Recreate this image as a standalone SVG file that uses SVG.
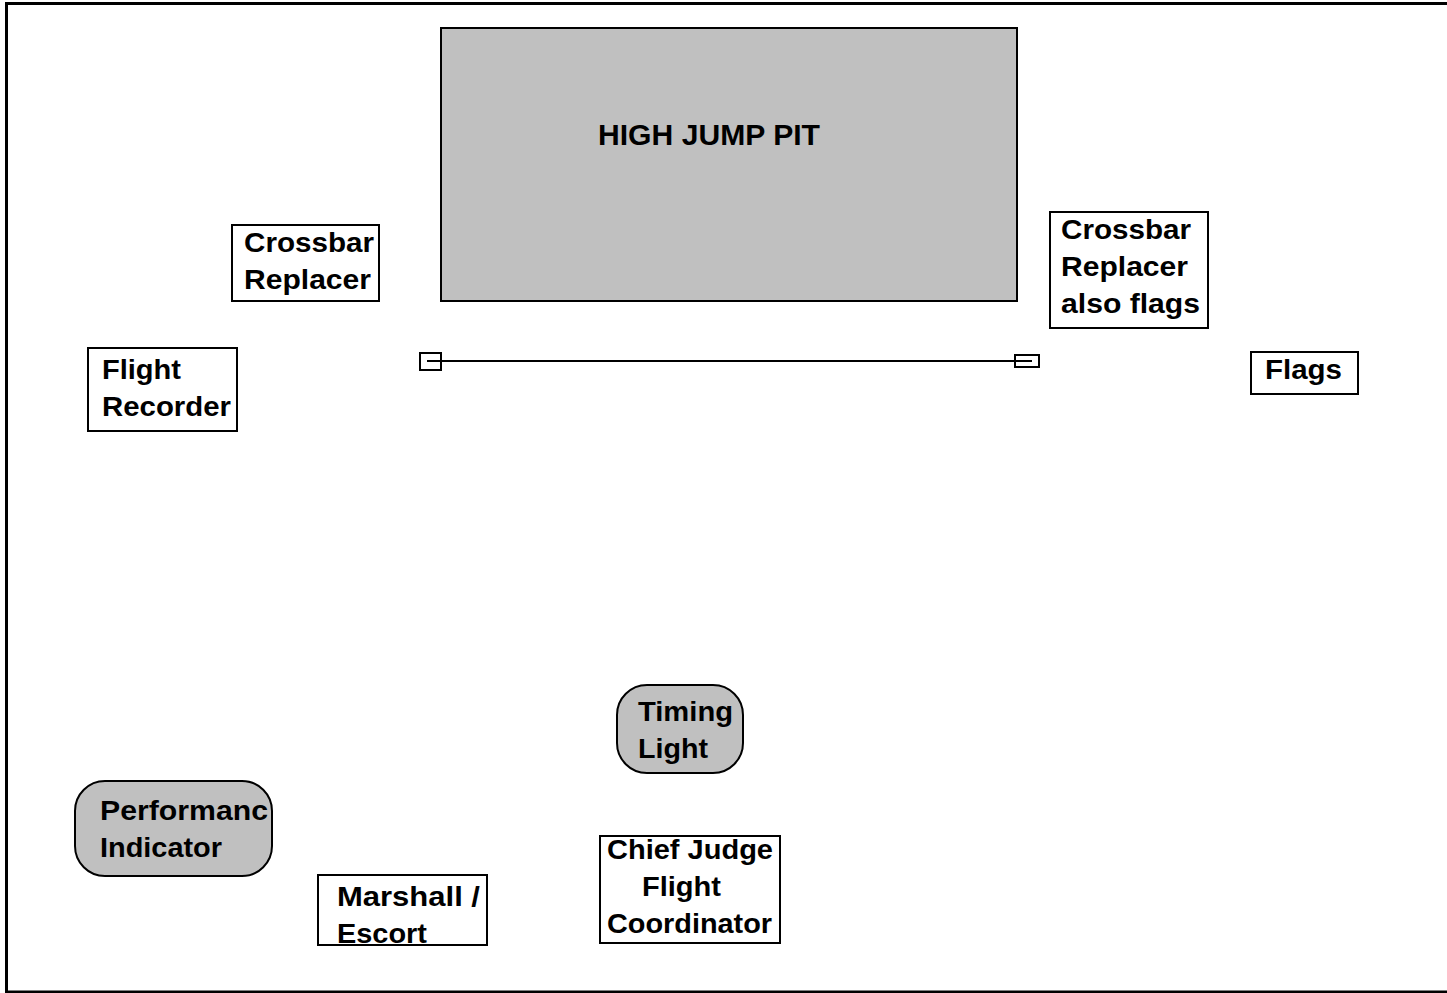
<svg xmlns="http://www.w3.org/2000/svg" width="1447" height="993" viewBox="0 0 1447 993">
<style>
.box{fill:#fff;stroke:#000;stroke-width:2}
.gray{fill:#c0c0c0;stroke:#000;stroke-width:2}
.lbl{font-family:"Liberation Sans",Arial,sans-serif;font-weight:bold;font-size:28px;fill:#000}
.title{font-family:"Liberation Sans",Arial,sans-serif;font-weight:bold;font-size:29px;fill:#000}
.frame{fill:none;stroke:#000;stroke-width:3}
</style>
<rect width="1447" height="993" fill="#fff"/>
<path class="frame" d="M1447,3.5 H6.5 V992 H1447"/>
<g id="pit">
<rect class="gray" x="441" y="28" width="576" height="273"/>
<text class="title" x="598" y="145" textLength="222" lengthAdjust="spacingAndGlyphs">HIGH JUMP PIT</text>
</g>
<g id="connectors">
<line x1="427" y1="361" x2="1032" y2="361" stroke="#000" stroke-width="2"/>
</g>
<g id="standard-left">
<rect x="420" y="353" width="21" height="17" fill="none" stroke="#000" stroke-width="2"/>
</g>
<g id="standard-right">
<rect x="1015" y="355" width="24" height="12" fill="none" stroke="#000" stroke-width="2"/>
</g>
<g id="crossbar-left">
<rect class="box" x="232" y="225" width="147" height="76"/>
<text class="lbl" x="244" y="252" textLength="130" lengthAdjust="spacingAndGlyphs">Crossbar</text>
<text class="lbl" x="244" y="289" textLength="127" lengthAdjust="spacingAndGlyphs">Replacer</text>
</g>
<g id="flight-recorder">
<rect class="box" x="88" y="348" width="149" height="83"/>
<text class="lbl" x="102" y="379" textLength="79" lengthAdjust="spacingAndGlyphs">Flight</text>
<text class="lbl" x="102" y="416" textLength="129" lengthAdjust="spacingAndGlyphs">Recorder</text>
</g>
<g id="crossbar-right">
<rect class="box" x="1050" y="212" width="158" height="116"/>
<text class="lbl" x="1061" y="239" textLength="130" lengthAdjust="spacingAndGlyphs">Crossbar</text>
<text class="lbl" x="1061" y="276" textLength="127" lengthAdjust="spacingAndGlyphs">Replacer</text>
<text class="lbl" x="1061" y="313" textLength="139" lengthAdjust="spacingAndGlyphs">also flags</text>
</g>
<g id="flags">
<rect class="box" x="1251" y="352" width="107" height="42"/>
<text class="lbl" x="1265" y="379" textLength="77" lengthAdjust="spacingAndGlyphs">Flags</text>
</g>
<g id="timing-light">
<rect class="gray" x="617" y="685" width="126" height="88" rx="30" ry="30"/>
<text class="lbl" x="638" y="721" textLength="95" lengthAdjust="spacingAndGlyphs">Timing</text>
<text class="lbl" x="638" y="758" textLength="70" lengthAdjust="spacingAndGlyphs">Light</text>
</g>
<g id="performance-indicator">
<rect class="gray" x="75" y="781" width="197" height="95" rx="30" ry="30"/>
<text class="lbl" x="100" y="820" textLength="168" lengthAdjust="spacingAndGlyphs">Performanc</text>
<text class="lbl" x="100" y="857" textLength="122" lengthAdjust="spacingAndGlyphs">Indicator</text>
</g>
<g id="marshall">
<rect class="box" x="318" y="875" width="169" height="70"/>
<text class="lbl" x="337" y="906" textLength="143" lengthAdjust="spacingAndGlyphs">Marshall /</text>
<text class="lbl" x="337" y="943" textLength="90" lengthAdjust="spacingAndGlyphs">Escort</text>
</g>
<g id="chief-judge">
<rect class="box" x="600" y="836" width="180" height="107"/>
<text class="lbl" x="607" y="859" textLength="166" lengthAdjust="spacingAndGlyphs">Chief Judge</text>
<text class="lbl" x="642" y="896" textLength="79" lengthAdjust="spacingAndGlyphs">Flight</text>
<text class="lbl" x="607" y="933" textLength="165" lengthAdjust="spacingAndGlyphs">Coordinator</text>
</g>
</svg>
